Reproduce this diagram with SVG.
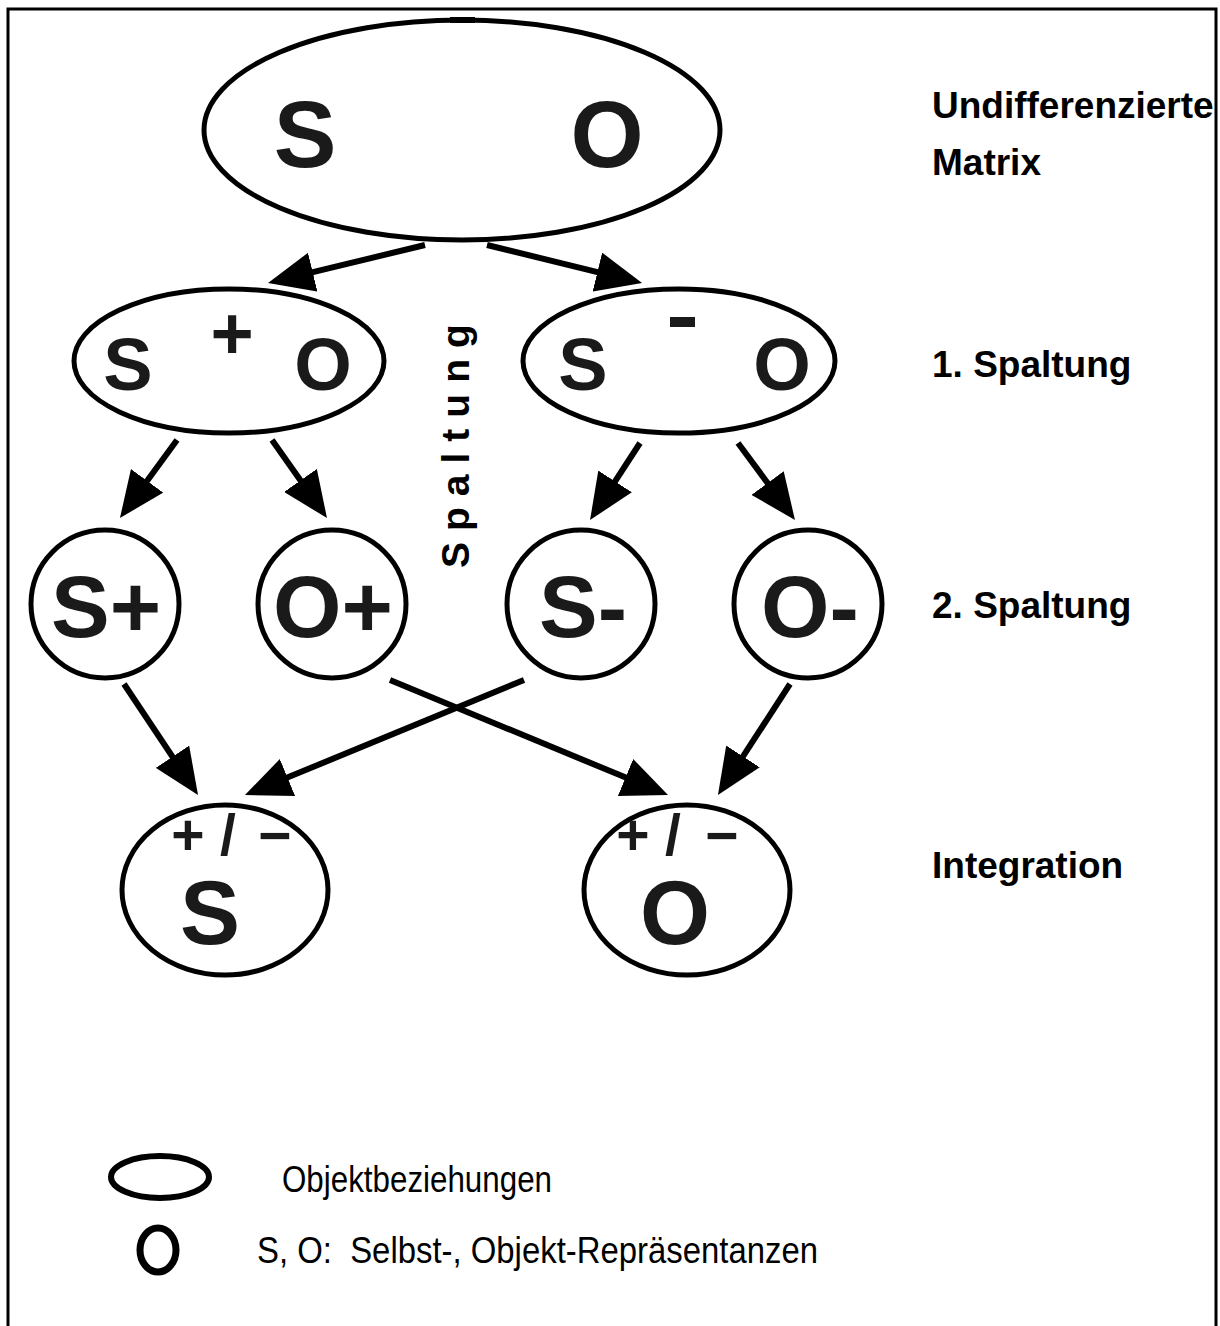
<svg xmlns="http://www.w3.org/2000/svg" width="1220" height="1326" viewBox="0 0 1220 1326">
<style>
.shape{fill:#fff;stroke:#000;stroke-width:5}
.big{font-family:"Liberation Sans",Arial,sans-serif;font-weight:bold;fill:#1a1a1a;text-anchor:middle}
.pm{font-family:"Liberation Sans",Arial,sans-serif;font-weight:bold;fill:#1a1a1a;text-anchor:middle;font-size:57px}
.lbl{font-family:"Liberation Sans",Arial,sans-serif;font-weight:bold;font-size:37px;fill:#000}
.leg{font-family:"Liberation Sans",Arial,sans-serif;font-size:36px;fill:#000}
.arrow{fill:none;stroke:#000;stroke-width:6;marker-end:url(#ah)}
</style>
<defs>
<marker id="ah" markerUnits="userSpaceOnUse" markerWidth="46" markerHeight="40" refX="20" refY="20" orient="auto">
<path d="M0,0 L46,20 L0,40 z" fill="#000"/>
</marker>
</defs>
<rect width="1220" height="1326" fill="#fff"/>
<path d="M8,1326 V9 H1216 V1326" fill="none" stroke="#000" stroke-width="3"/>

<g id="matrix">
<ellipse class="shape" cx="462" cy="130" rx="258" ry="110"/>
<rect x="450" y="17" width="25" height="6" fill="#000"/>
<text class="big" x="305" y="167" font-size="94">S</text>
<text class="big" x="607" y="167" font-size="94">O</text>
</g>

<g id="sop">
<ellipse class="shape" cx="229" cy="361" rx="155" ry="72"/>
<text class="big" x="128" y="390" font-size="74">S</text>
<text class="big" x="232" y="359" font-size="74">+</text>
<text class="big" x="323" y="390" font-size="74">O</text>
</g>

<g id="som">
<ellipse class="shape" cx="679" cy="361" rx="156" ry="72"/>
<text class="big" x="583" y="390" font-size="74">S</text>
<rect x="670" y="317" width="25" height="10" fill="#1a1a1a"/>
<text class="big" x="782" y="390" font-size="74">O</text>
</g>

<g id="splus">
<circle class="shape" cx="105" cy="604" r="74"/>
<text class="big" x="106" y="637" font-size="88">S+</text>
</g>
<g id="oplus">
<circle class="shape" cx="332" cy="604" r="74"/>
<text class="big" x="333" y="637" font-size="88">O+</text>
</g>
<g id="sminus">
<circle class="shape" cx="581" cy="604" r="74"/>
<text class="big" x="583" y="637" font-size="88">S-</text>
</g>
<g id="ominus">
<circle class="shape" cx="808" cy="604" r="74"/>
<text class="big" x="810" y="637" font-size="88">O-</text>
</g>

<g id="sint">
<ellipse class="shape" cx="225" cy="890" rx="103" ry="85"/>
<text class="pm" x="188 228 275" y="855">+/−</text>
<text class="big" x="210" y="944" font-size="90">S</text>
</g>
<g id="oint">
<ellipse class="shape" cx="687" cy="890" rx="103" ry="85"/>
<text class="pm" x="633 673 722" y="855">+/−</text>
<text class="big" x="675" y="944" font-size="90">O</text>
</g>

<g id="connectors">
<path class="arrow" d="M425,245 L293.3,276.9"/>
<path class="arrow" d="M487,245 L616.8,276.8"/>
<path class="arrow" d="M177,440 L135.3,497"/>
<path class="arrow" d="M272,440 L312,496.8"/>
<path class="arrow" d="M640,443 L604.2,498.2"/>
<path class="arrow" d="M738,443 L779.5,499.1"/>
<path class="arrow" d="M124,684 L183.6,773.4"/>
<path class="arrow" d="M524,680 L269,785.1"/>
<path class="arrow" d="M390,680 L644,785.1"/>
<path class="arrow" d="M790,684 L732.1,773.2"/>
</g>

<g id="spaltung-vertical">
<text class="lbl" style="font-size:39px" transform="translate(469,568) rotate(-90)" letter-spacing="11">Spaltung</text>
</g>

<g id="labels">
<text class="lbl" x="932" y="118">Undifferenzierte</text>
<text class="lbl" x="932" y="175">Matrix</text>
<text class="lbl" x="932" y="377">1. Spaltung</text>
<text class="lbl" x="932" y="618">2. Spaltung</text>
<text class="lbl" x="932" y="878">Integration</text>
</g>

<g id="legend">
<ellipse cx="160" cy="1177" rx="49" ry="21" fill="none" stroke="#000" stroke-width="6"/>
<ellipse cx="158" cy="1250" rx="18" ry="22" fill="none" stroke="#000" stroke-width="7"/>
<text class="leg" x="282" y="1192" textLength="270" lengthAdjust="spacingAndGlyphs">Objektbeziehungen</text>
<text class="leg" x="257" y="1263" textLength="561" lengthAdjust="spacingAndGlyphs">S, O:&#160; Selbst-, Objekt-Repräsentanzen</text>
</g>
</svg>
